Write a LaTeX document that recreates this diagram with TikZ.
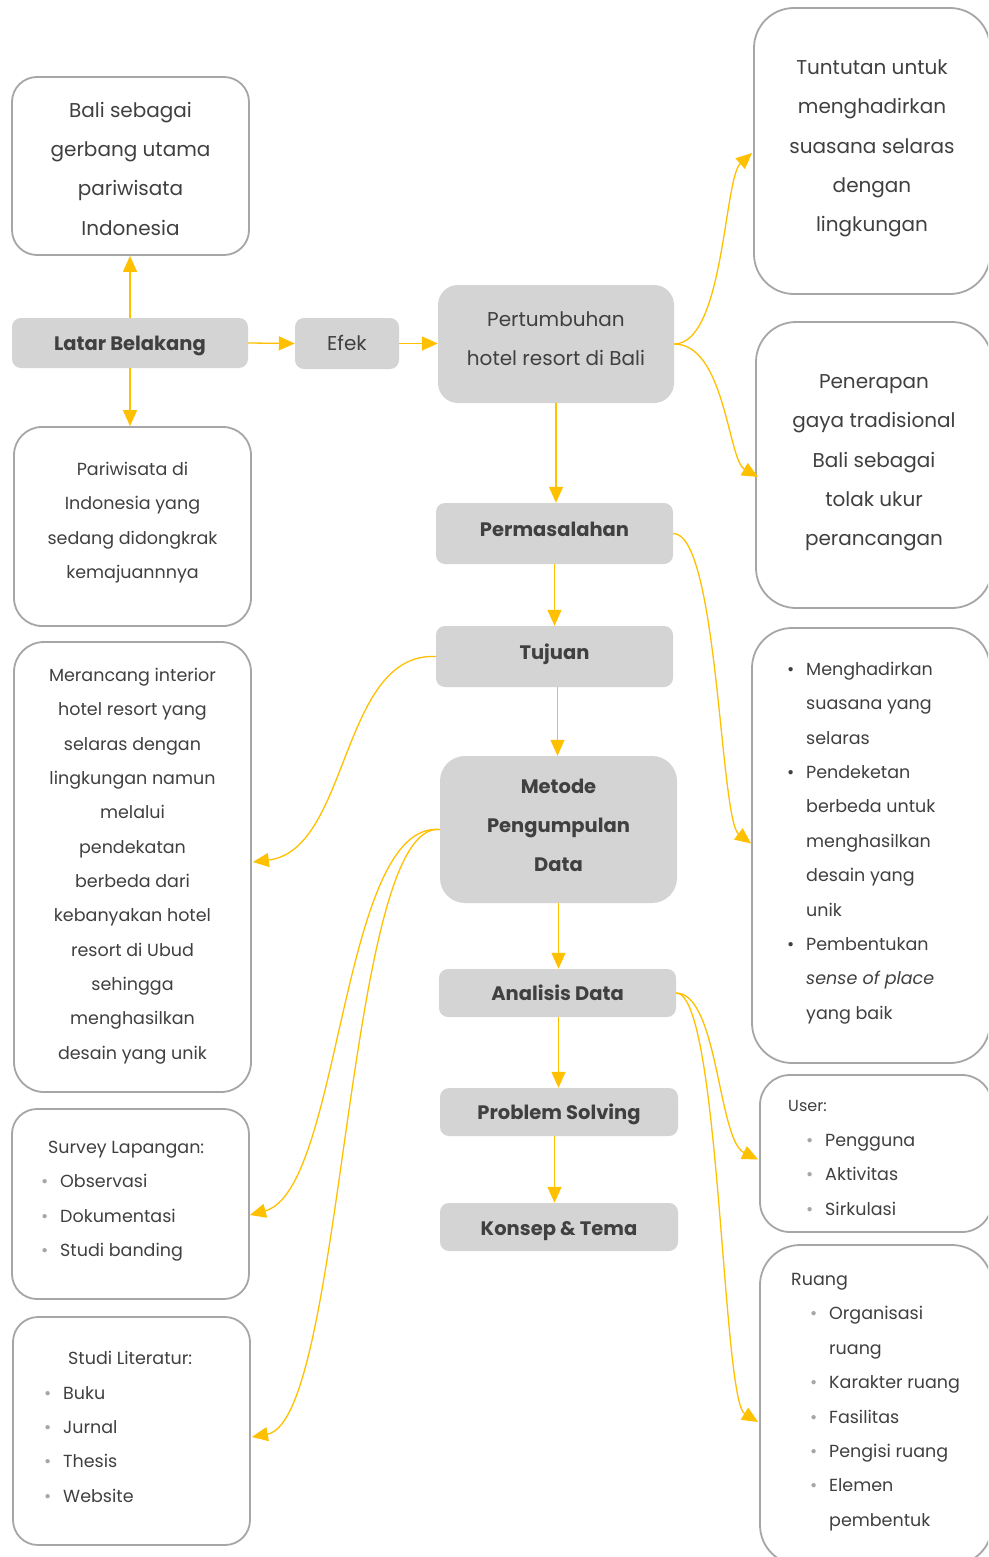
\documentclass[tikz,border=0pt]{standalone}
\usepackage{fontspec}
\setmainfont{Poppins}
\usetikzlibrary{arrows.meta,calc}
\definecolor{connc}{HTML}{FFC000}
\definecolor{boxgray}{HTML}{D4D4D4}
\definecolor{bordergray}{HTML}{A6A6A6}
\definecolor{txtc}{HTML}{404040}
\definecolor{bulc}{HTML}{A6A6A6}
\newcommand{\gb}{\makebox[19pt][l]{\textcolor{bulc}{\textbullet}}}
\newcommand{\kb}{\makebox[19pt][l]{\textbullet}}
\newcommand{\ind}{\hspace*{19pt}}
\begin{document}
\begin{tikzpicture}[x=1pt,y=-1pt,
  gbox/.style={fill=boxgray,draw=none,rounded corners=#1,inner sep=0pt,text=txtc,align=center},
  gbox/.default=9pt,
  wbox/.style={draw=bordergray,line width=1.8pt,fill=none,rounded corners=#1,inner sep=0pt},
  wbox/.default=28pt,
  boldtxt/.style={font=\fontsize{19.5}{39}\selectfont\bfseries},
  oneline/.style={text height=20pt,text depth=#1},
  oneline/.default=5pt,
  bigtxt/.style={text=txtc,align=center,inner sep=0pt,font=\fontsize{20}{39.3}\selectfont},
  midtxt/.style={text=txtc,align=center,inner sep=0pt,font=\fontsize{17.5}{34.35}\selectfont},
  listtxt/.style={text=txtc,align=left,inner sep=0pt,font=\fontsize{17.5}{34.35}\selectfont},
  arr/.style={draw=connc,line width=1.3pt,-{Triangle[length=16pt,width=14pt]}}]
\useasboundingbox (0,0) rectangle (988,1557);
\clip (0,0) rectangle (988,1557);
\fill[white] (0,0) rectangle (988,1557);

% ---- gray boxes
\node[gbox,boldtxt,oneline,minimum width=236pt,minimum height=50pt] (latar) at (130,343) {Latar Belakang};
\node[gbox,font=\fontsize{20}{39}\selectfont,text height=18pt,text depth=5pt,minimum width=104pt,minimum height=51pt] (efek) at (347,343.5) {Efek};
\node[gbox=20pt,font=\fontsize{20}{39}\selectfont,text depth=10pt,minimum width=236pt,minimum height=118pt] (pert) at (556,344) {Pertumbuhan\\hotel resort di Bali};
\node[gbox,boldtxt,text height=14pt,text depth=8pt,minimum width=237pt,minimum height=61pt] (permas) at (554.5,533.5) {Permasalahan};
\node[gbox,boldtxt,text height=14pt,text depth=9pt,minimum width=237pt,minimum height=61pt] (tujuan) at (554.5,656.5) {Tujuan};
\node[gbox=25pt,boldtxt,text depth=9pt,minimum width=237pt,minimum height=147pt] (metode) at (558.5,829.5) {Metode\\Pengumpulan\\Data};
\node[gbox,boldtxt,oneline,minimum width=237pt,minimum height=48pt] (analisis) at (557.5,993) {Analisis Data};
\node[gbox,boldtxt,oneline,minimum width=238pt,minimum height=48pt] (problem) at (559,1112) {Problem Solving};
\node[gbox,boldtxt,text height=22pt,text depth=5pt,minimum width=238pt,minimum height=48pt] (konsep) at (559,1227) {Konsep \& Tema};

% ---- white boxes
\node[wbox=25pt,minimum width=237pt,minimum height=178pt] (bali) at (130.5,166) {};
\node[bigtxt] (balit) at (130.5,168.8) {Bali sebagai\\gerbang utama\\pariwisata\\Indonesia};
\node[wbox=28pt,minimum width=237pt,minimum height=199pt] (pariw) at (132.5,526.5) {};
\node[midtxt] (pariwt) at (132.5,522.5) {Pariwisata di\\Indonesia yang\\sedang didongkrak\\kemajuannnya};
\node[wbox=30pt,minimum width=237pt,minimum height=450pt] (meran) at (132.5,867) {};
\node[midtxt] (merant) at (132.5,866) {Merancang interior\\hotel resort yang\\selaras dengan\\lingkungan namun\\melalui\\pendekatan\\berbeda dari\\kebanyakan hotel\\resort di Ubud\\sehingga\\menghasilkan\\desain yang unik};
\node[wbox=25pt,minimum width=237pt,minimum height=190pt] (survey) at (130.5,1204) {};
\node[listtxt,anchor=west] (surveyt) at (41,1201) {\hspace*{7pt}Survey Lapangan:\\\gb Observasi\\\gb Dokumentasi\\\gb Studi banding};
\node[wbox=25pt,minimum width=237pt,minimum height=228pt] (studi) at (131.5,1431) {};
\node[listtxt,anchor=west] (studit) at (44,1427) {\hspace*{24pt}Studi Literatur:\\\gb Buku\\\gb Jurnal\\\gb Thesis\\\gb Website};

\node[wbox=40pt,minimum width=236pt,minimum height=286pt] (tuntut) at (872,151) {};
\node[bigtxt] (tuntutt) at (872,148.5) {Tuntutan untuk\\menghadirkan\\suasana selaras\\dengan\\lingkungan};
\node[wbox=40pt,minimum width=236pt,minimum height=286pt] (pener) at (874,465) {};
\node[bigtxt] (penert) at (874,463) {Penerapan\\gaya tradisional\\Bali sebagai\\tolak ukur\\perancangan};
\node[wbox=40pt,minimum width=238pt,minimum height=435pt] (tlist) at (871,845.5) {};
\node[listtxt,anchor=west] (tlistt) at (787,843) {\kb Menghadirkan\\\ind suasana yang\\\ind selaras\\\kb Pendeketan\\\ind berbeda untuk\\\ind menghasilkan\\\ind desain yang\\\ind unik\\\kb Pembentukan\\\ind \textit{sense of place}\\\ind yang baik};
\node[wbox=30pt,minimum width=232pt,minimum height=157pt] (user) at (876,1153.5) {};
\node[listtxt,anchor=west] (usert) at (788,1158) {{\fontsize{16}{34.35}\selectfont User:}\\\hspace*{18pt}\gb Pengguna\\\hspace*{18pt}\gb Aktivitas\\\hspace*{18pt}\gb Sirkulasi};
\node[wbox=40pt,minimum width=232pt,minimum height=320pt] (ruang) at (876,1405) {};
\node[listtxt,anchor=west] (ruangt) at (791,1402) {Ruang\\\hspace*{19pt}\gb Organisasi\\\hspace*{19pt}\ind ruang\\\hspace*{19pt}\gb Karakter ruang\\\hspace*{19pt}\gb Fasilitas\\\hspace*{19pt}\gb Pengisi ruang\\\hspace*{19pt}\gb Elemen\\\hspace*{19pt}\ind pembentuk};

% ---- straight connectors
\draw[arr] (latar.north) -- (latar.north |- bali.south);
\draw[arr] (latar.south) -- (latar.south |- pariw.north);
\draw[arr] (latar.east) -- (efek.west);
\draw[arr] (efek.east) -- (efek.east -| pert.west);
\draw[arr] (pert.south) -- (pert.south |- permas.north);
\draw[arr] (permas.south) -- (tujuan.north);
\draw[arr] (tujuan.south -| analisis.north) -- (analisis.north |- metode.north);
\draw[arr] (metode.south) -- (metode.south |- analisis.north);
\draw[arr] (analisis.south -| metode.south) -- (metode.south |- problem.north);
\draw[arr] (problem.south -| permas.south) -- (permas.south |- konsep.north);

% ---- curved connectors
\draw[arr] (pert.east) .. controls (724,344) and (724,178) .. ($(tuntut.west)+(-1,2)$);
\draw[arr] (pert.east) .. controls (725,344) and (728,460) .. ($(pener.west)+(3,12)$);
\draw[arr] (permas.east) .. controls (718,533) and (720,820) .. ($(tlist.west)+(0,-2)$);
\draw[arr] (tujuan.west) .. controls (340,652) and (350,850) .. ($(meran.east)+(1,-5)$);
\draw[arr] (metode.west) .. controls (340,820) and (342,1190) .. ($(survey.east)+(0,11)$);
\draw[arr] (metode.west) .. controls (345,820) and (345,1420) .. ($(studi.east)+(1,6)$);
\draw[arr] (analisis.east) .. controls (718,993) and (718,1140) .. ($(user.west)+(-1,6)$);
\draw[arr] (analisis.east) .. controls (720,993) and (722,1400) .. ($(ruang.west)+(-1,17)$);
\end{tikzpicture}
\end{document}
